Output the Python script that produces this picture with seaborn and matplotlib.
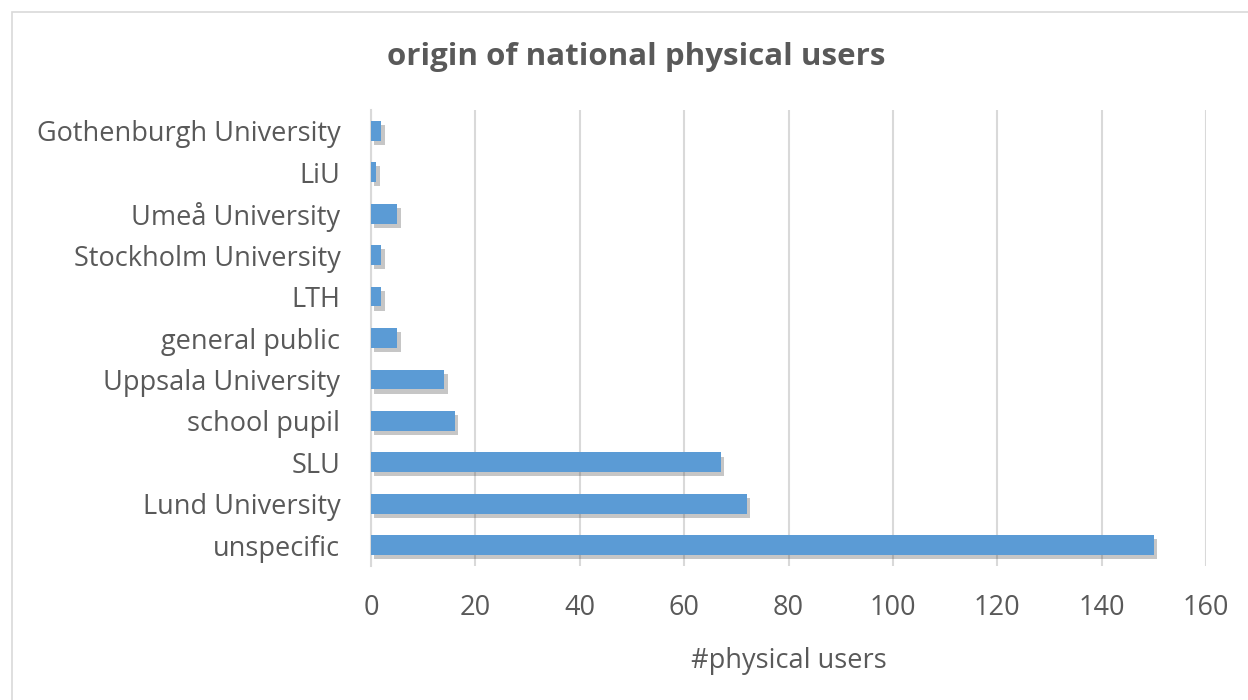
import matplotlib
matplotlib.use("Agg")
import matplotlib.pyplot as plt
import matplotlib.patheffects as pe
from matplotlib.patches import Rectangle
import pandas as pd
import seaborn as sns

categories = [
    "Gothenburgh University", "LiU", "Umeå University", "Stockholm University",
    "LTH", "general public", "Uppsala University", "school pupil", "SLU",
    "Lund University", "unspecific",
]
users = [2, 1, 5, 2, 2, 5, 14, 16, 67, 72, 150]

df = pd.DataFrame({"origin": categories, "users": users})

sns.set_theme(style="white")
plt.rcParams["font.family"] = ["Open Sans", "DejaVu Sans"]

fig = plt.figure(figsize=(12.48, 7.0), dpi=100)
ax = fig.add_axes([371 / 1248, 1 - 566 / 700, (1206 - 371) / 1248, (566 - 110) / 700])

sns.barplot(data=df, x="users", y="origin", orient="h", color="#5B9BD5",
            saturation=1, width=0.48, linewidth=0, ax=ax, zorder=3)
for bar in ax.patches:
    bar.set_path_effects([pe.SimplePatchShadow(offset=(2.5, -3), shadow_rgbFace="#444444",
                                               alpha=0.3), pe.Normal()])

ax.set_xlim(0, 160)
ax.set_xticks(range(0, 161, 20))
ax.grid(axis="x", color="#d9d9d9", linewidth=1.5, zorder=0)
ax.grid(axis="y", visible=False)
for s in ["top", "right", "bottom"]:
    ax.spines[s].set_visible(False)
ax.spines["left"].set_color("#d9d9d9")
ax.spines["left"].set_linewidth(1.5)
ax.tick_params(axis="both", length=0, labelsize=19.5, labelcolor="#595959")
ax.tick_params(axis="x", pad=20)
ax.tick_params(axis="y", pad=22)
ax.set_ylabel("")
ax.set_xlabel("#physical users", fontsize=19.5, color="#595959", labelpad=18)

fig.text(636 / 1248, 1 - 57 / 700, "origin of national physical users", ha="center",
         va="center", fontsize=22.5, fontweight="bold", color="#595959")

fig.patches.append(Rectangle((12 / 1248, -0.01), 1.0, 1 - 12 / 700 + 0.01,
                             transform=fig.transFigure, fill=False,
                             edgecolor="#d9d9d9", linewidth=1.2))

fig.savefig("out.png", dpi=100)
